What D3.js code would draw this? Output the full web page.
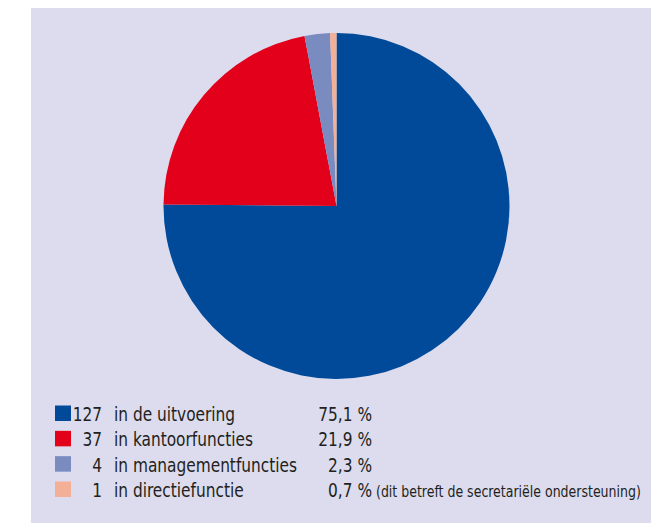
<!DOCTYPE html>
<html><head><meta charset="utf-8">
<script src="https://cdn.jsdelivr.net/npm/d3@7"></script>
<style>body{margin:0;background:#fff}svg{display:block}</style>
</head><body>
<script>
const categories = ["in de uitvoering","in kantoorfuncties","in managementfuncties","in directiefunctie"];
const counts = [127, 37, 4, 1];
const percents = ["75,1 %","21,9 %","2,3 %","0,7 %"];
const notes = ["","","","(dit betreft de secretariële ondersteuning)"];
const colors = ["#004a99","#e2001a","#7a8bc0","#f4b097"];

const W=658,H=524;
const svg=d3.select("body").append("svg").attr("width",W).attr("height",H);
svg.append("rect").attr("x",31).attr("y",8).attr("width",620).attr("height",515).attr("fill","#dcdcee");

const cx=336.5, cy=206, r=173;
const pie=d3.pie().sort(null).value(d=>d)(counts);
const arc=d3.arc().innerRadius(0).outerRadius(r);
svg.append("g").attr("transform",`translate(${cx},${cy})`)
  .selectAll("path").data(pie).join("path")
  .attr("d",arc).attr("fill",(d,i)=>colors[i]);

const font="'Liberation Sans Narrow','DejaVu Sans Condensed',sans-serif";
const rowY=d3.scalePoint().domain(d3.range(categories.length)).range([421,497]);
const lg=svg.append("g").attr("font-family",font).attr("fill","#231f20");
const sx=0.9;
function txt(x,y,s,size,anchor){
  lg.append("text").attr("transform",`translate(${x},${y}) scale(${sx},1)`)
    .attr("text-anchor",anchor||"start").attr("font-size",size).text(s);
}
categories.forEach((c,i)=>{
  const y=rowY(i);
  lg.append("rect").attr("x",55).attr("y",y-15.5).attr("width",16).attr("height",15.5).attr("fill",colors[i]);
  txt(102,y,counts[i],19,"end");
  txt(114,y,c,19);
  txt(372,y,percents[i],19,"end");
  if(notes[i]) txt(376,y,notes[i],15.5);
});
</script>
</body></html>
